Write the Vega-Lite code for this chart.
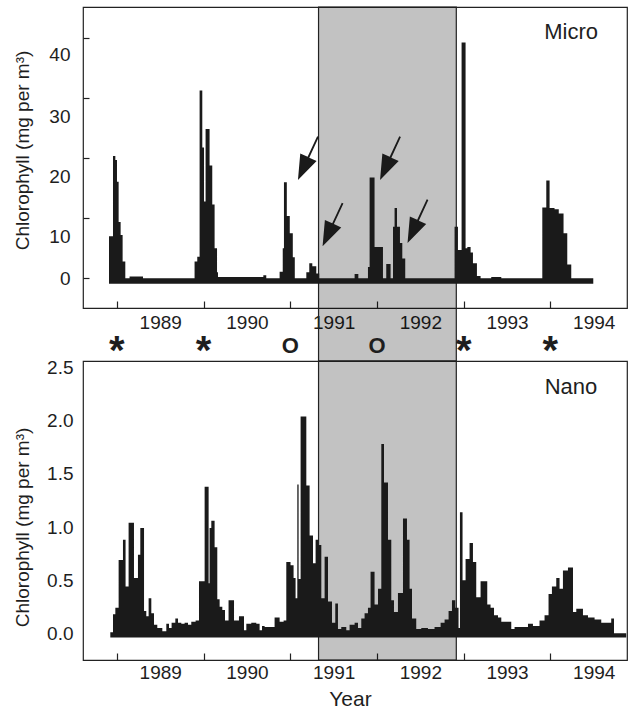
{
  "$schema": "https://vega.github.io/schema/vega-lite/v6.json",
  "background": "white",
  "padding": {"left": 12, "top": 5, "right": 2, "bottom": 0},
  "bounds": "flush",
  "spacing": 53,
  "config": {
    "font": "Liberation Sans",
    "view": {"stroke": "#222", "strokeWidth": 1.2},
    "scale": {"zero": false},
    "axis": {"grid": false, "domain": false, "labelColor": "#1e1e1e", "titleColor": "#1e1e1e", "tickColor": "#222", "tickWidth": 1.2, "labelFontSize": 19, "titleFontSize": 19, "titleFontWeight": "normal", "zindex": 1, "labelFlush": false, "labelOverlap": false}
  },
  "datasets": {
    "micro": [
      {"year": 1988.909, "chl": 7.0}, {"year": 1988.955, "chl": 20.4}, {"year": 1988.982, "chl": 19.7}, {"year": 1989.001, "chl": 16.1},
      {"year": 1989.020, "chl": 9.4}, {"year": 1989.043, "chl": 7.2}, {"year": 1989.066, "chl": 2.8}, {"year": 1989.097, "chl": 0},
      {"year": 1989.146, "chl": 0.3}, {"year": 1989.301, "chl": 0}, {"year": 1989.896, "chl": 2.8}, {"year": 1989.927, "chl": 3.6},
      {"year": 1989.954, "chl": 31.3}, {"year": 1989.985, "chl": 21.8}, {"year": 1990.005, "chl": 12.8}, {"year": 1990.023, "chl": 24.9},
      {"year": 1990.069, "chl": 18.8}, {"year": 1990.100, "chl": 12.3}, {"year": 1990.127, "chl": 5.0}, {"year": 1990.155, "chl": 1.0},
      {"year": 1990.166, "chl": 0.2}, {"year": 1990.689, "chl": 0.5}, {"year": 1990.723, "chl": 0}, {"year": 1990.877, "chl": 1.1},
      {"year": 1990.913, "chl": 5.0}, {"year": 1990.927, "chl": 16.0}, {"year": 1990.960, "chl": 10.4}, {"year": 1990.994, "chl": 7.5},
      {"year": 1991.029, "chl": 3.5}, {"year": 1991.052, "chl": 0}, {"year": 1991.185, "chl": 1.0}, {"year": 1991.219, "chl": 2.5},
      {"year": 1991.254, "chl": 2.0}, {"year": 1991.300, "chl": 0.8}, {"year": 1991.334, "chl": 0}, {"year": 1991.742, "chl": 0.7},
      {"year": 1991.785, "chl": 0}, {"year": 1991.896, "chl": 1.9}, {"year": 1991.915, "chl": 16.8}, {"year": 1991.972, "chl": 5.2},
      {"year": 1992.069, "chl": 0}, {"year": 1992.107, "chl": 2.4}, {"year": 1992.157, "chl": 0}, {"year": 1992.185, "chl": 8.6},
      {"year": 1992.203, "chl": 11.7}, {"year": 1992.231, "chl": 8.6}, {"year": 1992.265, "chl": 5.9}, {"year": 1992.292, "chl": 3.3},
      {"year": 1992.326, "chl": 0}, {"year": 1992.895, "chl": 8.6}, {"year": 1992.934, "chl": 4.7}, {"year": 1992.976, "chl": 39.3},
      {"year": 1993.022, "chl": 5.0}, {"year": 1993.042, "chl": 5.2}, {"year": 1993.080, "chl": 4.3}, {"year": 1993.107, "chl": 2.5},
      {"year": 1993.153, "chl": 0.4}, {"year": 1993.195, "chl": 0}, {"year": 1993.318, "chl": 0.2}, {"year": 1993.434, "chl": 0},
      {"year": 1993.907, "chl": 11.8}, {"year": 1993.953, "chl": 16.3}, {"year": 1993.991, "chl": 11.7}, {"year": 1994.048, "chl": 11.5},
      {"year": 1994.097, "chl": 10.8}, {"year": 1994.152, "chl": 7.5}, {"year": 1994.195, "chl": 2.3}, {"year": 1994.241, "chl": 0},
      {"year": 1994.495, "chl": 0}
    ],
    "nano": [
      {"year": 1988.924, "chl": 0.01}, {"year": 1988.955, "chl": 0.18}, {"year": 1988.982, "chl": 0.24}, {"year": 1989.020, "chl": 0.69},
      {"year": 1989.070, "chl": 0.88}, {"year": 1989.100, "chl": 0.44}, {"year": 1989.135, "chl": 1.04}, {"year": 1989.197, "chl": 0.52},
      {"year": 1989.243, "chl": 0.74}, {"year": 1989.270, "chl": 0.99}, {"year": 1989.313, "chl": 0.21}, {"year": 1989.339, "chl": 0.16},
      {"year": 1989.366, "chl": 0.33}, {"year": 1989.397, "chl": 0.19}, {"year": 1989.428, "chl": 0.08}, {"year": 1989.466, "chl": 0.05},
      {"year": 1989.524, "chl": 0.02}, {"year": 1989.570, "chl": 0.09}, {"year": 1989.601, "chl": 0.05}, {"year": 1989.631, "chl": 0.10},
      {"year": 1989.674, "chl": 0.14}, {"year": 1989.705, "chl": 0.10}, {"year": 1989.743, "chl": 0.09}, {"year": 1989.781, "chl": 0.10},
      {"year": 1989.820, "chl": 0.08}, {"year": 1989.858, "chl": 0.11}, {"year": 1989.908, "chl": 0.12}, {"year": 1989.947, "chl": 0.49},
      {"year": 1990.012, "chl": 1.38}, {"year": 1990.058, "chl": 0.47}, {"year": 1990.069, "chl": 0.99}, {"year": 1990.089, "chl": 1.06},
      {"year": 1990.127, "chl": 0.81}, {"year": 1990.158, "chl": 0.32}, {"year": 1990.185, "chl": 0.25}, {"year": 1990.216, "chl": 0.22},
      {"year": 1990.247, "chl": 0.12}, {"year": 1990.288, "chl": 0.31}, {"year": 1990.351, "chl": 0.12}, {"year": 1990.408, "chl": 0.16},
      {"year": 1990.466, "chl": 0.03}, {"year": 1990.493, "chl": 0.09}, {"year": 1990.550, "chl": 0.10}, {"year": 1990.608, "chl": 0.09},
      {"year": 1990.646, "chl": 0.03}, {"year": 1990.674, "chl": 0.07}, {"year": 1990.704, "chl": 0.06}, {"year": 1990.819, "chl": 0.15},
      {"year": 1990.877, "chl": 0.11}, {"year": 1990.923, "chl": 0.12}, {"year": 1990.954, "chl": 0.67}, {"year": 1991.003, "chl": 0.64},
      {"year": 1991.038, "chl": 0.52}, {"year": 1991.061, "chl": 0.33}, {"year": 1991.081, "chl": 1.40}, {"year": 1991.096, "chl": 0.51},
      {"year": 1991.119, "chl": 2.04}, {"year": 1991.185, "chl": 1.39}, {"year": 1991.223, "chl": 0.92}, {"year": 1991.262, "chl": 0.66},
      {"year": 1991.292, "chl": 0.88}, {"year": 1991.320, "chl": 0.83}, {"year": 1991.358, "chl": 0.33}, {"year": 1991.396, "chl": 0.72},
      {"year": 1991.435, "chl": 0.30}, {"year": 1991.481, "chl": 0.10}, {"year": 1991.519, "chl": 0.28}, {"year": 1991.550, "chl": 0.04},
      {"year": 1991.588, "chl": 0.06}, {"year": 1991.646, "chl": 0.03}, {"year": 1991.684, "chl": 0.08}, {"year": 1991.742, "chl": 0.10},
      {"year": 1991.781, "chl": 0.05}, {"year": 1991.819, "chl": 0.14}, {"year": 1991.857, "chl": 0.19}, {"year": 1991.896, "chl": 0.24},
      {"year": 1991.926, "chl": 0.58}, {"year": 1991.972, "chl": 0.27}, {"year": 1992.012, "chl": 0.42}, {"year": 1992.050, "chl": 1.78},
      {"year": 1992.081, "chl": 1.42}, {"year": 1992.127, "chl": 0.88}, {"year": 1992.165, "chl": 0.31}, {"year": 1992.196, "chl": 0.20},
      {"year": 1992.242, "chl": 0.38}, {"year": 1992.300, "chl": 1.08}, {"year": 1992.346, "chl": 0.88}, {"year": 1992.376, "chl": 0.42},
      {"year": 1992.404, "chl": 0.14}, {"year": 1992.453, "chl": 0.04}, {"year": 1992.511, "chl": 0.05}, {"year": 1992.588, "chl": 0.04},
      {"year": 1992.664, "chl": 0.06}, {"year": 1992.734, "chl": 0.10}, {"year": 1992.780, "chl": 0.13}, {"year": 1992.826, "chl": 0.21},
      {"year": 1992.865, "chl": 0.31}, {"year": 1992.903, "chl": 0.24}, {"year": 1992.941, "chl": 0.05}, {"year": 1992.957, "chl": 1.14},
      {"year": 1992.987, "chl": 0.50}, {"year": 1993.022, "chl": 0.70}, {"year": 1993.068, "chl": 0.85}, {"year": 1993.107, "chl": 0.67},
      {"year": 1993.145, "chl": 0.34}, {"year": 1993.195, "chl": 0.49}, {"year": 1993.272, "chl": 0.27}, {"year": 1993.310, "chl": 0.24},
      {"year": 1993.350, "chl": 0.17}, {"year": 1993.396, "chl": 0.15}, {"year": 1993.434, "chl": 0.11}, {"year": 1993.549, "chl": 0.04},
      {"year": 1993.587, "chl": 0.06}, {"year": 1993.742, "chl": 0.09}, {"year": 1993.799, "chl": 0.07}, {"year": 1993.875, "chl": 0.12},
      {"year": 1993.933, "chl": 0.17}, {"year": 1993.979, "chl": 0.37}, {"year": 1994.018, "chl": 0.44}, {"year": 1994.068, "chl": 0.52},
      {"year": 1994.106, "chl": 0.42}, {"year": 1994.145, "chl": 0.59}, {"year": 1994.203, "chl": 0.62}, {"year": 1994.261, "chl": 0.20},
      {"year": 1994.299, "chl": 0.23}, {"year": 1994.376, "chl": 0.17}, {"year": 1994.434, "chl": 0.15}, {"year": 1994.510, "chl": 0.13},
      {"year": 1994.587, "chl": 0.10}, {"year": 1994.702, "chl": 0.14}, {"year": 1994.734, "chl": 0.0}, {"year": 1994.875, "chl": 0.0}
    ],
    "arrows": [
      {"year": 1991.204, "chl": 20.0}, {"year": 1991.488, "chl": 8.93}, {"year": 1992.151, "chl": 20.0}, {"year": 1992.468, "chl": 9.5}
    ],
    "period": [{"start": 1991.326, "end": 1992.915}]
  },
  "vconcat": [
    {
      "width": 544,
      "height": 301,
      "resolve": {"axis": {"y": "independent"}},
      "layer": [
        {
          "data": {"name": "period"},
          "mark": {"type": "rect", "fill": "black", "fillOpacity": 0.24, "stroke": "#222", "strokeWidth": 1.2},
          "encoding": {
            "x": {"field": "start", "type": "quantitative", "scale": {"domain": [1988.609, 1994.884], "nice": false}},
            "x2": {"field": "end"},
            "y": {"datum": 45.22, "type": "quantitative", "scale": {"domain": [-4.95, 45.22], "nice": false}, "axis": null},
            "y2": {"datum": -13.8}
          }
        },
        {
          "data": {"name": "micro"},
          "mark": {"type": "area", "interpolate": "step-after", "color": "#1a1a1a"},
          "encoding": {
            "x": {"field": "year", "type": "quantitative", "axis": {"values": [1989, 1990, 1991, 1992, 1993, 1994], "format": "d", "tickSize": -7, "labelOffset": 43.35, "labelPadding": 12, "title": null}},
            "y": {"field": "chl", "type": "quantitative", "axis": {"orient": "left", "values": [0, 10, 20, 30, 40], "labels": false, "tickSize": -6, "title": null}},
            "y2": {"datum": -0.9}
          }
        },
        {
          "data": {"name": "arrows"},
          "mark": {"type": "point", "shape": "M-0.417,0.902 L0.36,0.113 L0.054,-0.028 L0.451,-0.886 L0.383,-0.918 L-0.015,-0.06 L-0.321,-0.201 Z", "size": 2304, "filled": true, "color": "#1a1a1a", "opacity": 1, "strokeWidth": 0},
          "encoding": {
            "x": {"field": "year", "type": "quantitative"},
            "y": {"field": "chl", "type": "quantitative", "axis": null}
          }
        },
        {
          "data": {"values": [{"label": "Micro"}]},
          "mark": {"type": "text", "align": "right", "baseline": "alphabetic", "fontSize": 22, "color": "#1e1e1e"},
          "encoding": {
            "text": {"field": "label"},
            "x": {"datum": 1994.549, "type": "quantitative"},
            "y": {"datum": 39.83, "type": "quantitative", "axis": {"orient": "left", "values": [0, 6.93, 16.93, 26.93, 37.22], "labelExpr": "format(round(datum.value/10+0.35)*10,'d')", "ticks": false, "labelPadding": 13, "title": "Chlorophyll (mg per m³)", "titlePadding": 16, "titleY": 143}}
          }
        },
        {
          "data": {"values": [{"year": 1989, "m": "*"}, {"year": 1990, "m": "*"}, {"year": 1993, "m": "*"}, {"year": 1994, "m": "*"}]},
          "mark": {"type": "text", "align": "center", "baseline": "alphabetic", "fontSize": 40, "fontWeight": "bold", "color": "#1e1e1e"},
          "encoding": {
            "text": {"field": "m"},
            "x": {"field": "year", "type": "quantitative"},
            "y": {"datum": -14.25, "type": "quantitative", "axis": null}
          }
        },
        {
          "data": {"values": [{"year": 1991, "m": "O"}, {"year": 1992, "m": "O"}]},
          "mark": {"type": "text", "align": "center", "baseline": "alphabetic", "fontSize": 22, "fontWeight": "bold", "color": "#1e1e1e"},
          "encoding": {
            "text": {"field": "m"},
            "x": {"field": "year", "type": "quantitative"},
            "y": {"datum": -12.37, "type": "quantitative", "axis": null}
          }
        }
      ]
    },
    {
      "width": 544,
      "height": 299,
      "layer": [
        {
          "data": {"name": "period"},
          "mark": {"type": "rect", "fill": "black", "fillOpacity": 0.24, "stroke": "#222", "strokeWidth": 1.2},
          "encoding": {
            "x": {"field": "start", "type": "quantitative", "scale": {"domain": [1988.609, 1994.884], "nice": false}},
            "x2": {"field": "end"},
            "y": {"datum": 2.562, "type": "quantitative", "scale": {"domain": [-0.251, 2.562], "nice": false}},
            "y2": {"datum": -0.251}
          }
        },
        {
          "data": {"name": "nano"},
          "mark": {"type": "area", "interpolate": "step-after", "color": "#1a1a1a"},
          "encoding": {
            "x": {"field": "year", "type": "quantitative", "axis": {"values": [1989, 1990, 1991, 1992, 1993, 1994], "format": "d", "tickSize": -7, "labelOffset": 43.35, "labelPadding": 10, "title": "Year", "titleFontSize": 21, "titlePadding": 6, "titleX": 267}},
            "y": {"field": "chl", "type": "quantitative", "axis": {"values": [0, 0.5, 1, 1.5, 2, 2.5], "format": ".1f", "ticks": false, "labelPadding": 10, "title": "Chlorophyll (mg per m³)", "titlePadding": 14, "titleY": 166}},
            "y2": {"datum": -0.04}
          }
        },
        {
          "data": {"values": [{"label": "Nano"}]},
          "mark": {"type": "text", "align": "right", "baseline": "alphabetic", "fontSize": 22, "color": "#1e1e1e"},
          "encoding": {
            "text": {"field": "label"},
            "x": {"datum": 1994.541, "type": "quantitative"},
            "y": {"datum": 2.248, "type": "quantitative"}
          }
        }
      ]
    }
  ]
}
